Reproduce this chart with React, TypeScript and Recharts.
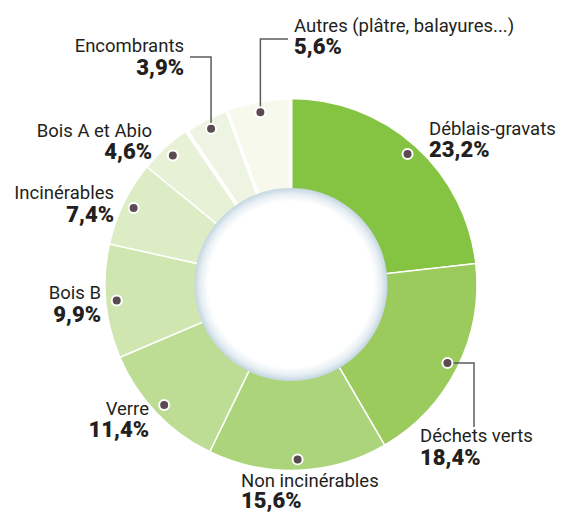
import React from 'react';
import { PieChart, Pie, Cell } from 'recharts';

// Répartition des déchets collectés (%)
const categories = [
    'Déblais-gravats',
    'Déchets verts',
    'Non incinérables',
    'Verre',
    'Bois B',
    'Incinérables',
    'Bois A et Abio',
    'Encombrants',
    'Autres (plâtre, balayures...)',
];
const shares = [23.2, 18.4, 15.6, 11.4, 9.9, 7.4, 4.6, 3.9, 5.6];

const colors = ['#85c442', '#9bcb5d', '#acd57b', '#bddd95', '#d0e6b1', '#dcecc5', '#e6f1d5', '#edf4e1', '#f6f9eb'];
const gaps = [1.5, 1.5, 1.5, 1.5, 1.5, 1.5, 1.5, 4, 3];

const data = categories.map((name, i) => ({ name, value: shares[i] }));
const hole = [{ name: 'centre', value: 1 }];

// where each label sits (text anchor, x, baselines) and its leader line if any
const labelLayout = [
    { anchor: 'start', x: 429, y1: 135, y2: 157 },
    { anchor: 'start', x: 420, y1: 442, y2: 465, leader: 'right-down', elbow: 474, end: 427 },
    { anchor: 'start', x: 241, y1: 487, y2: 508 },
    { anchor: 'end', x: 149, y1: 415, y2: 437 },
    { anchor: 'end', x: 101, y1: 299, y2: 322 },
    { anchor: 'end', x: 114, y1: 199, y2: 222 },
    { anchor: 'end', x: 152, y1: 137, y2: 159 },
    { anchor: 'end', x: 184, y1: 52, y2: 75, leader: 'up-left', elbow: 57, end: 190 },
    { anchor: 'start', x: 294, y1: 32, y2: 54, leader: 'up-right', elbow: 39, end: 288 },
];

const RADIAN = Math.PI / 180;
const FONT = 'Roboto, "Noto Sans", sans-serif';

const renderLabel = (props: any) => {
    const { cx, cy, midAngle, outerRadius, index, value, name } = props;
    const r = outerRadius - 11;
    const dx = cx + r * Math.cos(-midAngle * RADIAN);
    const dy = cy + r * Math.sin(-midAngle * RADIAN);
    const l = labelLayout[index];
    let line = null;
    if (l.leader === 'right-down') {
        line = <polyline points={`${dx},${dy} ${l.elbow},${dy} ${l.elbow},${l.end}`} fill="none" stroke="#5c5c5c" strokeWidth={1.5} />;
    } else if (l.leader === 'up-left' || l.leader === 'up-right') {
        line = <polyline points={`${dx},${dy} ${dx},${l.elbow} ${l.end},${l.elbow}`} fill="none" stroke="#5c5c5c" strokeWidth={1.5} />;
    }
    return (
        <g>
            {line}
            <circle cx={dx} cy={dy} r={5} fill="#5a4b51" stroke="#fff" strokeWidth={2} />
            <text x={l.x} y={l.y1} textAnchor={l.anchor} fontFamily={FONT} fontSize={18.5} fill="#231f20">
                {name}
            </text>
            <text x={l.x} y={l.y2} textAnchor={l.anchor} fontFamily={FONT} fontSize={22} fontWeight={900} fill="#231f20">
                {value.toFixed(1).replace('.', ',')}%
            </text>
        </g>
    );
};

export default function App() {
    return (
        <div style={{ position: 'absolute', left: 0, top: 0 }}>
            <PieChart width={561} height={512} margin={{ top: 0, right: 0, bottom: 0, left: 0 }}>
                <defs>
                    <radialGradient id="holeGrad" cx="50%" cy="50%" r="50%">
                        <stop offset="0%" stopColor="#ffffff" />
                        <stop offset="86%" stopColor="#ffffff" />
                        <stop offset="94%" stopColor="#e6eef3" />
                        <stop offset="100%" stopColor="#c4d5e0" />
                    </radialGradient>
                </defs>
                <Pie
                    data={data}
                    dataKey="value"
                    nameKey="name"
                    cx={291}
                    cy={284.5}
                    innerRadius={88}
                    outerRadius={186}
                    startAngle={90}
                    endAngle={-270}
                    label={renderLabel}
                    labelLine={false}
                    isAnimationActive={false}
                >
                    {data.map((d, i) => (
                        <Cell key={d.name} fill={colors[i]} stroke="#ffffff" strokeWidth={gaps[i]} />
                    ))}
                </Pie>
                <Pie
                    data={hole}
                    dataKey="value"
                    cx={291}
                    cy={284.5}
                    innerRadius={0}
                    outerRadius={96.5}
                    startAngle={90}
                    endAngle={-270}
                    fill="url(#holeGrad)"
                    stroke="none"
                    isAnimationActive={false}
                />
            </PieChart>
        </div>
    );
}
